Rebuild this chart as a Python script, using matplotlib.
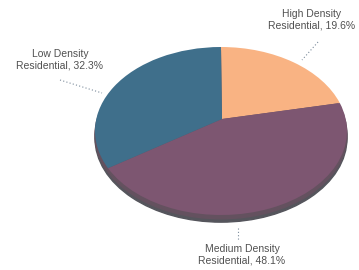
import numpy as np
import matplotlib.pyplot as plt
from matplotlib.patches import Ellipse, PathPatch
from matplotlib.path import Path

labels = ['High Density\nResidential, 19.6%',
          'Medium Density\nResidential, 48.1%',
          'Low Density\nResidential, 32.3%']
shares = [19.6, 48.1, 32.3]
colors = ['#f9b383', '#7d5671', '#3f6f8b']

W, H = 359, 270
cx, cy, a, b = 221, 131, 126, 84  # ellipse centre / semi-axes in pixels


def px(x, y):
    # pixel position -> data coords of the unit pie
    return (x - cx) / a, (cy - y) / b


fig = plt.figure(figsize=(W / 100, H / 100), dpi=100)
ax = fig.add_axes([0, 0, 1, 1])
plt.rcParams['font.family'] = ['Liberation Sans', 'DejaVu Sans']

# rim / depth of the tilted pie
ax.add_patch(Ellipse((0, -0.085), 2.0, 2.0, color='#55555c', zorder=1))
ax.add_patch(Ellipse((0, -0.045), 2.0, 2.0, color='#64515f', zorder=1))

wedges, _ = ax.pie(shares, colors=colors, startangle=90, counterclock=False,
                   radius=1, wedgeprops=dict(linewidth=0))

# fake perspective: pull the pie centre up, keep the rim where it is
apex = np.array(px(222, 119))
for w in wedges:
    path = w.get_path()
    v = path.vertices
    r = np.clip(np.hypot(v[:, 0], v[:, 1]), 0, 1)[:, None]
    nv = v + (1 - r) * apex
    ax.add_patch(PathPatch(Path(nv, path.codes), facecolor=w.get_facecolor(),
                           linewidth=0, zorder=2))
    w.set_visible(False)

ax.set_aspect('auto')
x0, y0 = px(0, 0)
x1, y1 = px(W, H)
ax.set_xlim(x0, x1)
ax.set_ylim(y1, y0)
ax.axis('off')

# labels with dotted leaders
txt = dict(ha='center', va='center', fontsize=7.5, color='#505050', linespacing=1.15)
ax.text(*px(312, 20), labels[0], **txt)
ax.text(*px(242, 255), labels[1], **txt)
ax.text(*px(60, 60), labels[2], **txt)

lead = dict(color='#7a8a9a', linestyle=(0, (1, 2)), linewidth=0.8)
for (xa, ya), (xb, yb) in [((318, 42), (302, 60)),
                           ((238, 228), (238, 240)),
                           ((60, 80), (102, 93))]:
    pa, pb = px(xa, ya), px(xb, yb)
    ax.plot([pa[0], pb[0]], [pa[1], pb[1]], **lead)

fig.savefig('out.png', dpi=100)
